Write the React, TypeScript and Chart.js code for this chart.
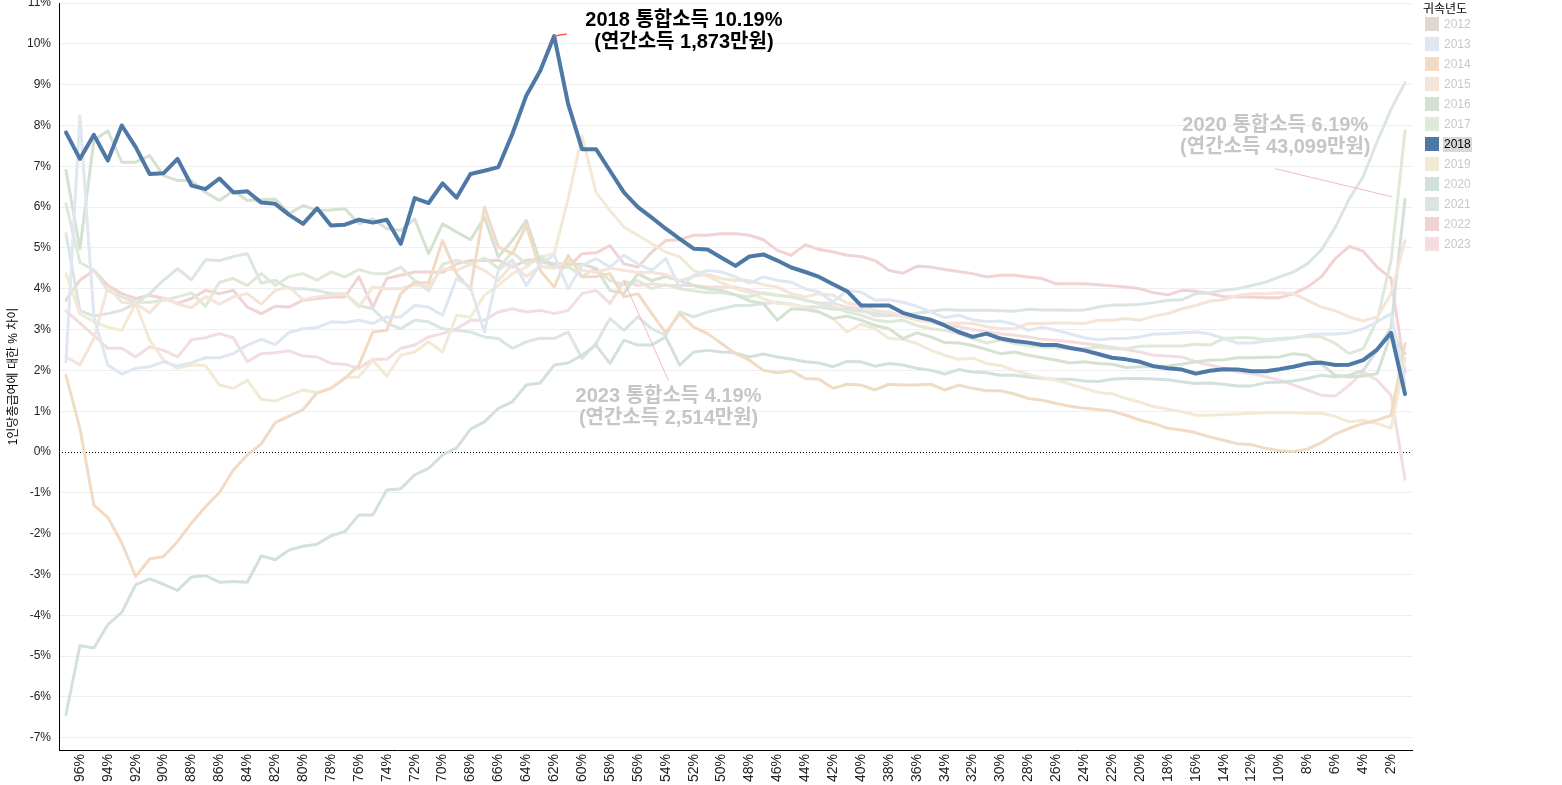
import React, { useEffect, useRef } from 'react';
import { Chart, registerables } from 'chart.js';

Chart.register(...registerables);

const categories = [
  '97%', '96%', '95%', '94%', '93%', '92%', '91%', '90%', '89%', '88%',
  '87%', '86%', '85%', '84%', '83%', '82%', '81%', '80%', '79%', '78%',
  '77%', '76%', '75%', '74%', '73%', '72%', '71%', '70%', '69%', '68%',
  '67%', '66%', '65%', '64%', '63%', '62%', '61%', '60%', '59%', '58%',
  '57%', '56%', '55%', '54%', '53%', '52%', '51%', '50%', '49%', '48%',
  '47%', '46%', '45%', '44%', '43%', '42%', '41%', '40%', '39%', '38%',
  '37%', '36%', '35%', '34%', '33%', '32%', '31%', '30%', '29%', '28%',
  '27%', '26%', '25%', '24%', '23%', '22%', '21%', '20%', '19%', '18%',
  '17%', '16%', '15%', '14%', '13%', '12%', '11%', '10%', '9%', '8%',
  '7%', '6%', '5%', '4%', '3%', '2%', '1%',
];

const years = ['2012', '2013', '2014', '2015', '2016', '2017', '2018', '2019', '2020', '2021', '2022', '2023'];

const yTickValues = [-7, -6, -5, -4, -3, -2, -1, 0, 1, 2, 3, 4, 5, 6, 7, 8, 9, 10, 11];

const y2012: number[] = [];

const y2013 = [
  2.21, 8.24, 3.31, 2.13, 1.91, 2.05, 2.09, 2.21, 2.11, 2.19,
  2.31, 2.31, 2.41, 2.62, 2.76, 2.63, 2.93, 3.02, 3.05, 3.19,
  3.17, 3.23, 3.15, 3.31, 3.31, 3.59, 3.55, 3.35, 4.25, 4.04,
  2.94, 4.45, 4.71, 4.08, 4.61, 4.82, 4.00, 4.57, 4.74, 4.53,
  4.82, 4.61, 4.45, 4.74, 4.03, 4.33, 4.45, 4.41, 4.29, 4.14,
  4.29, 4.20, 4.16, 4.00, 3.92, 3.67, 3.96, 3.92, 3.72, 3.73,
  3.67, 3.57, 3.43, 3.29, 3.35, 3.24, 3.19, 3.21, 3.13, 2.98,
  3.06, 2.98, 2.89, 2.80, 2.75, 2.78, 2.78, 2.82, 2.89, 2.90,
  2.92, 2.94, 2.89, 2.78, 2.67, 2.67, 2.72, 2.75, 2.79, 2.86,
  2.89, 2.89, 2.92, 3.02, 3.19, 3.39, 1.68,
];

const y2014 = [
  1.88, 0.58, -1.30, -1.60, -2.23, -3.05, -2.62, -2.56, -2.19, -1.74,
  -1.34, -0.99, -0.44, -0.07, 0.20, 0.72, 0.88, 1.04, 1.45, 1.56,
  1.80, 2.13, 2.94, 2.98, 3.88, 4.16, 4.14, 5.18, 4.37, 3.98,
  6.00, 5.02, 4.86, 5.55, 4.45, 4.04, 4.82, 4.29, 4.30, 4.37,
  3.80, 3.88, 3.39, 2.92, 3.39, 3.06, 2.90, 2.66, 2.41, 2.25,
  2.00, 1.94, 1.99, 1.80, 1.78, 1.56, 1.66, 1.64, 1.52, 1.66,
  1.64, 1.64, 1.66, 1.52, 1.64, 1.56, 1.50, 1.50, 1.42, 1.31,
  1.27, 1.19, 1.12, 1.07, 1.04, 1.00, 0.90, 0.78, 0.70, 0.58,
  0.54, 0.47, 0.37, 0.29, 0.20, 0.18, 0.09, 0.03, 0.01, 0.07,
  0.23, 0.44, 0.58, 0.70, 0.78, 0.90, 2.66,
];

const y2015 = [
  2.33, 2.13, 2.78, 4.04, 3.67, 3.64, 3.41, 3.78, 3.62, 3.54,
  3.81, 3.62, 3.80, 3.88, 3.62, 3.96, 4.04, 3.73, 3.80, 3.84,
  3.88, 3.55, 4.04, 4.00, 4.00, 4.10, 4.05, 4.50, 4.45, 4.60,
  4.45, 4.20, 4.60, 4.30, 4.55, 4.50, 4.70, 4.45, 4.40, 4.50,
  4.45, 4.40, 4.40, 4.35, 4.20, 4.30, 4.35, 4.25, 4.20, 4.20,
  4.10, 4.04, 3.88, 3.80, 3.88, 3.84, 3.65, 3.59, 3.47, 3.43,
  3.33, 3.23, 3.19, 3.15, 3.16, 3.15, 3.07, 3.02, 3.02, 3.15,
  3.15, 3.16, 3.16, 3.15, 3.23, 3.23, 3.27, 3.23, 3.33, 3.39,
  3.51, 3.59, 3.70, 3.73, 3.84, 3.88, 3.88, 3.90, 3.88, 3.72,
  3.55, 3.46, 3.31, 3.21, 3.31, 3.88, 5.18,
];

const y2016 = [
  6.90, 4.98, 7.63, 7.87, 7.10, 7.10, 7.26, 6.77, 6.65, 6.65,
  6.36, 6.16, 6.40, 6.16, 6.18, 6.20, 5.84, 6.04, 5.92, 5.93,
  5.96, 5.59, 5.71, 5.47, 5.43, 5.71, 4.86, 5.59, 5.39, 5.20,
  5.75, 4.78, 5.18, 5.67, 4.65, 4.61, 4.61, 4.60, 4.50, 3.96,
  3.88, 4.37, 4.20, 4.30, 4.20, 4.08, 4.00, 3.96, 3.85, 3.70,
  3.64, 3.23, 3.51, 3.49, 3.43, 3.27, 3.33, 3.23, 3.10, 3.02,
  2.78, 2.92, 2.82, 2.68, 2.67, 2.61, 2.51, 2.41, 2.45, 2.37,
  2.31, 2.25, 2.18, 2.21, 2.17, 2.15, 2.07, 2.09, 2.09, 2.11,
  2.15, 2.21, 2.25, 2.26, 2.31, 2.31, 2.32, 2.33, 2.41, 2.37,
  2.15, 1.88, 1.84, 1.86, 1.92, 2.90, 2.41,
];

const y2017 = [
  6.08, 4.65, 4.45, 3.96, 3.80, 3.67, 3.67, 3.72, 3.80, 3.90,
  3.57, 4.16, 4.25, 4.08, 4.37, 4.08, 4.30, 4.37, 4.21, 4.41,
  4.29, 4.47, 4.37, 4.37, 4.53, 4.20, 3.95, 4.60, 4.70, 4.60,
  4.75, 4.50, 4.90, 4.60, 4.80, 4.55, 4.55, 4.30, 4.50, 4.20,
  4.10, 4.20, 4.00, 4.10, 4.00, 3.95, 3.90, 3.90, 3.85, 3.80,
  3.90, 3.84, 3.80, 3.72, 3.64, 3.55, 3.43, 3.35, 3.23, 3.19,
  3.23, 3.10, 3.02, 2.98, 2.90, 2.78, 2.67, 2.75, 2.66, 2.61,
  2.57, 2.55, 2.53, 2.53, 2.57, 2.53, 2.53, 2.59, 2.60, 2.60,
  2.60, 2.64, 2.62, 2.78, 2.80, 2.80, 2.75, 2.78, 2.80, 2.84,
  2.82, 2.66, 2.41, 2.53, 3.23, 4.69, 7.87,
];

const y2018 = [
  7.83, 7.18, 7.77, 7.14, 8.00, 7.47, 6.81, 6.83, 7.18, 6.53,
  6.44, 6.70, 6.36, 6.39, 6.11, 6.08, 5.81, 5.59, 5.97, 5.55,
  5.57, 5.69, 5.62, 5.69, 5.10, 6.22, 6.10, 6.58, 6.23, 6.81,
  6.89, 6.98, 7.79, 8.73, 9.34, 10.19, 8.53, 7.42, 7.42, 6.89,
  6.36, 6.00, 5.74, 5.47, 5.22, 4.98, 4.96, 4.76, 4.56, 4.79,
  4.84, 4.69, 4.52, 4.41, 4.29, 4.11, 3.94, 3.59, 3.59, 3.59,
  3.41, 3.31, 3.24, 3.10, 2.94, 2.82, 2.90, 2.78, 2.72, 2.68,
  2.62, 2.62, 2.55, 2.49, 2.40, 2.31, 2.27, 2.21, 2.10, 2.05,
  2.02, 1.92, 1.99, 2.03, 2.02, 1.98, 1.98, 2.03, 2.09, 2.17,
  2.19, 2.13, 2.14, 2.25, 2.51, 2.92, 1.42,
];

const y2019 = [
  4.37, 3.39, 3.19, 3.06, 2.98, 3.64, 2.74, 2.25, 2.05, 2.13,
  2.12, 1.64, 1.56, 1.76, 1.29, 1.25, 1.39, 1.52, 1.45, 1.56,
  1.83, 1.84, 2.25, 1.86, 2.37, 2.45, 2.70, 2.45, 3.35, 3.30,
  3.84, 4.08, 4.37, 4.53, 4.78, 4.86, 6.20, 7.75, 6.36, 5.92,
  5.51, 5.31, 5.10, 4.90, 4.78, 4.45, 4.30, 4.15, 4.00, 3.90,
  3.75, 3.64, 3.62, 3.55, 3.43, 3.27, 2.94, 3.13, 3.02, 2.78,
  2.76, 2.66, 2.49, 2.37, 2.27, 2.30, 2.17, 2.12, 2.00, 1.90,
  1.82, 1.76, 1.66, 1.56, 1.46, 1.43, 1.31, 1.22, 1.11, 1.05,
  0.99, 0.90, 0.90, 0.92, 0.93, 0.95, 0.96, 0.96, 0.96, 0.95,
  0.95, 0.87, 0.74, 0.78, 0.70, 0.58, 2.30,
];

const y2020 = [
  -6.43, -4.74, -4.80, -4.23, -3.93, -3.25, -3.11, -3.24, -3.39, -3.06,
  -3.03, -3.19, -3.17, -3.19, -2.54, -2.64, -2.40, -2.31, -2.26, -2.05,
  -1.95, -1.54, -1.54, -0.93, -0.90, -0.56, -0.40, -0.07, 0.10, 0.56,
  0.74, 1.07, 1.23, 1.64, 1.69, 2.13, 2.18, 2.37, 2.62, 2.17,
  2.74, 2.62, 2.62, 2.82, 2.13, 2.45, 2.49, 2.45, 2.43, 2.33,
  2.40, 2.33, 2.28, 2.21, 2.18, 2.09, 2.22, 2.21, 2.10, 2.17,
  2.13, 2.05, 2.00, 1.91, 2.02, 1.96, 1.94, 1.88, 1.88, 1.84,
  1.80, 1.78, 1.78, 1.74, 1.73, 1.78, 1.80, 1.80, 1.79, 1.77,
  1.72, 1.68, 1.69, 1.66, 1.62, 1.62, 1.70, 1.71, 1.74, 1.80,
  1.88, 1.84, 1.88, 2.00, 2.49, 3.06, 6.19,
];

const y2021 = [
  5.35, 3.47, 3.33, 3.39, 3.47, 3.64, 3.88, 4.21, 4.49, 4.22,
  4.71, 4.69, 4.79, 4.86, 4.14, 4.21, 4.00, 4.00, 3.96, 3.88,
  3.88, 3.59, 3.51, 3.16, 3.02, 3.23, 3.19, 3.02, 2.98, 2.94,
  2.82, 2.78, 2.54, 2.70, 2.79, 2.78, 2.94, 2.29, 2.66, 3.27,
  2.98, 3.31, 3.02, 2.86, 3.43, 3.31, 3.43, 3.51, 3.59, 3.59,
  3.64, 3.67, 3.62, 3.55, 3.55, 3.50, 3.50, 3.45, 3.40, 3.35,
  3.35, 3.40, 3.45, 3.49, 3.47, 3.47, 3.47, 3.46, 3.45, 3.50,
  3.48, 3.48, 3.47, 3.48, 3.55, 3.60, 3.60, 3.62, 3.66, 3.72,
  3.73, 3.88, 3.90, 3.96, 4.00, 4.08, 4.16, 4.29, 4.41, 4.61,
  4.95, 5.50, 6.20, 6.75, 7.60, 8.40, 9.05,
];

const y2022 = [
  3.72, 4.21, 4.45, 4.08, 3.88, 3.76, 3.84, 3.76, 3.64, 3.76,
  3.96, 3.88, 3.96, 3.55, 3.39, 3.57, 3.55, 3.72, 3.76, 3.80,
  3.80, 4.29, 3.55, 4.25, 4.33, 4.41, 4.41, 4.40, 4.61, 4.69,
  4.69, 4.70, 4.53, 4.70, 4.72, 4.53, 4.53, 4.86, 4.88, 5.06,
  4.61, 4.53, 4.90, 5.18, 5.20, 5.31, 5.31, 5.35, 5.35, 5.31,
  5.20, 4.94, 4.82, 5.08, 4.96, 4.90, 4.82, 4.79, 4.69, 4.45,
  4.38, 4.55, 4.53, 4.47, 4.42, 4.37, 4.29, 4.33, 4.33, 4.29,
  4.25, 4.12, 4.12, 4.12, 4.10, 4.07, 4.04, 4.00, 3.90, 3.85,
  3.96, 3.94, 3.88, 3.81, 3.80, 3.80, 3.78, 3.78, 3.88, 4.04,
  4.29, 4.74, 5.04, 4.92, 4.53, 4.25, 1.96,
];

const y2023 = [
  3.46, 3.16, 2.86, 2.54, 2.54, 2.33, 2.58, 2.49, 2.33, 2.75,
  2.80, 2.90, 2.80, 2.21, 2.41, 2.43, 2.48, 2.35, 2.33, 2.17,
  2.15, 2.05, 2.27, 2.27, 2.54, 2.62, 2.82, 2.90, 3.02, 3.23,
  3.23, 3.43, 3.51, 3.43, 3.47, 3.39, 3.47, 3.88, 3.96, 3.64,
  4.19, 4.08, 4.12, 4.08, 4.08, 4.08, 4.04, 4.04, 4.04, 3.96,
  3.88, 3.84, 3.81, 3.72, 3.65, 3.64, 3.55, 3.51, 3.33, 3.35,
  3.33, 3.23, 3.19, 3.10, 3.07, 3.00, 2.94, 2.90, 2.86, 2.82,
  2.76, 2.74, 2.70, 2.66, 2.62, 2.57, 2.51, 2.45, 2.37, 2.35,
  2.33, 2.21, 2.13, 2.05, 1.96, 1.92, 1.84, 1.76, 1.64, 1.52,
  1.39, 1.37, 1.64, 1.96, 1.76, 1.39, -0.67,
];

const seriesByYear: Record<string, number[]> = {
  '2012': y2012, '2013': y2013, '2014': y2014, '2015': y2015, '2016': y2016, '2017': y2017,
  '2018': y2018, '2019': y2019, '2020': y2020, '2021': y2021, '2022': y2022, '2023': y2023,
};

const lineColors: Record<string, string> = {
  '2012': '#e2d6d3', '2013': '#dfe7f0', '2014': '#f2dbc5', '2015': '#f5e4d8',
  '2016': '#d5e1d1', '2017': '#dee9d7', '2018': '#4e79a7', '2019': '#f3ead6',
  '2020': '#d3e1de', '2021': '#dbe6e3', '2022': '#f1d3d4', '2023': '#f3dde0',
};

const highlightYear = '2018';

const yMin = -7.3;
const yMax = 11;

// annotation texts and their anchors in data units (category index, value)
const noteTitles = [
  ['2018 통합소득 10.19%', '(연간소득 1,873만원)'],
  ['2020 통합소득 6.19%', '(연간소득 43,099만원)'],
  ['2023 통합소득 4.19%', '(연간소득 2,514만원)'],
];
const noteAnchors = [[44.3, 10.58], [86.7, 7.99], [43.2, 1.37]];
const notePointerFrom = [[35, 10.19], [86.7, 6.94], [40, 4.19]];
const notePointerTo = [[35.9, 10.24], [95.1, 6.25], [43.2, 1.75]];

const FONT = '"Liberation Sans", Arial, "Noto Sans CJK KR", sans-serif';

const notesPlugin = {
  id: 'notesPlugin',
  beforeDatasetsDraw(chart: any) {
    const { ctx, chartArea } = chart;
    const ys = chart.scales.y;
    const y0 = Math.round(ys.getPixelForValue(0)) + 0.5;
    ctx.save();
    ctx.strokeStyle = '#000';
    ctx.lineWidth = 1;
    ctx.setLineDash([1, 2]);
    ctx.beginPath();
    ctx.moveTo(chartArea.left, y0);
    ctx.lineTo(chartArea.right, y0);
    ctx.stroke();
    ctx.restore();
  },
  afterDatasetsDraw(chart: any) {
    const { ctx } = chart;
    const xs = chart.scales.x;
    const ys = chart.scales.y;
    const styles = [
      { text: '#000000', line: '#ff5a5a', width: 1.5 },
      { text: '#c6c6c6', line: '#f2b9bd', width: 1 },
      { text: '#c6c6c6', line: '#f2b9bd', width: 1 },
    ];
    noteTitles.forEach((lines, i) => {
      const st = styles[i];
      ctx.save();
      ctx.strokeStyle = st.line;
      ctx.lineWidth = st.width;
      ctx.beginPath();
      ctx.moveTo(xs.getPixelForValue(notePointerFrom[i][0]), ys.getPixelForValue(notePointerFrom[i][1]));
      ctx.lineTo(xs.getPixelForValue(notePointerTo[i][0]), ys.getPixelForValue(notePointerTo[i][1]));
      ctx.stroke();
      ctx.fillStyle = st.text;
      ctx.font = `bold 20px ${FONT}`;
      ctx.textAlign = 'center';
      ctx.textBaseline = 'middle';
      const cx = xs.getPixelForValue(noteAnchors[i][0]);
      const cy = ys.getPixelForValue(noteAnchors[i][1]);
      lines.forEach((t, k) => ctx.fillText(t, cx, cy + k * 22));
      ctx.restore();
    });
  },
};

export default function App() {
  const canvasRef = useRef<HTMLCanvasElement | null>(null);

  useEffect(() => {
    const canvas = canvasRef.current;
    if (!canvas) return;
    const datasets = years.map((yr) => ({
      label: yr,
      data: seriesByYear[yr],
      borderColor: lineColors[yr],
      backgroundColor: lineColors[yr],
      borderWidth: yr === highlightYear ? 4 : 3,
      pointRadius: 0,
      pointHoverRadius: 0,
      tension: 0,
      fill: false,
      borderJoinStyle: 'round' as const,
      borderCapStyle: 'round' as const,
      order: yr === highlightYear ? 0 : 1,
    }));

    const chart = new Chart(canvas, {
      type: 'line',
      data: { labels: categories, datasets },
      options: {
        animation: false,
        responsive: false,
        layout: { padding: { left: 0, right: 150, top: 3, bottom: 0 } },
        plugins: {
          legend: { display: false },
          tooltip: { enabled: false },
        },
        scales: {
          x: {
            type: 'category',
            offset: true,
            grid: { display: true, drawOnChartArea: false, drawTicks: false },
            border: { display: true, color: '#000', width: 1 },
            ticks: {
              autoSkip: false,
              maxRotation: 90,
              minRotation: 90,
              padding: 4,
              color: '#222',
              font: { family: FONT, size: 14 },
              callback: (_v: any, index: number) => {
                const n = parseInt(categories[index], 10);
                return n % 2 === 0 ? categories[index] : '';
              },
            },
            afterFit: (s: any) => {
              s.height = 35;
              s.paddingLeft = 0;
              s.paddingRight = 0;
            },
          },
          y: {
            type: 'linear',
            min: yMin,
            max: yMax,
            grid: {
              drawTicks: false,
              color: (ctx: any) => {
                const v = ctx.tick ? ctx.tick.value : 1;
                return Math.abs(v) < 1e-6 ? 'rgba(0,0,0,0)' : '#efefef';
              },
              lineWidth: 1,
            },
            border: { display: true, color: '#000', width: 1 },
            afterBuildTicks: (axis: any) => {
              axis.ticks = yTickValues.map((v) => ({ value: v }));
            },
            ticks: {
              padding: 8,
              color: '#222',
              font: { family: FONT, size: 12 },
              callback: (v: any) => `${Math.round(Number(v))}%`,
            },
            title: {
              display: true,
              text: '1인당총급여에 대한 % 차이',
              color: '#000',
              font: { family: FONT, size: 12 },
              padding: { top: 6, bottom: 0 },
            },
            afterFit: (s: any) => {
              s.width = 59;
              s.paddingTop = 0;
              s.paddingBottom = 0;
            },
          },
        },
      },
      plugins: [notesPlugin],
    });
    return () => chart.destroy();
  }, []);

  return (
    <div style={{ position: 'fixed', left: 0, top: 0, width: 1562, height: 785, background: '#fff', fontFamily: FONT }}>
      <canvas ref={canvasRef} width={1562} height={785} style={{ position: 'absolute', left: 0, top: 0, width: 1562, height: 785 }} />
      <div style={{ position: 'absolute', left: 1423, top: 1, fontSize: 12, lineHeight: '16px', color: '#000' }}>귀속년도</div>
      {years.map((yr, i) => (
        <div
          key={yr}
          style={{ position: 'absolute', left: 1425, top: 17 + i * 20, height: 14, display: 'flex', alignItems: 'center' }}
        >
          <div style={{ width: 14, height: 14, background: lineColors[yr] }} />
          <div
            style={{
              marginLeft: 4,
              fontSize: 12,
              lineHeight: '15px',
              padding: '0 1px',
              color: yr === highlightYear ? '#000' : '#c8c8c8',
              background: yr === highlightYear ? '#d9d9d9' : 'transparent',
            }}
          >
            {yr}
          </div>
        </div>
      ))}
    </div>
  );
}
